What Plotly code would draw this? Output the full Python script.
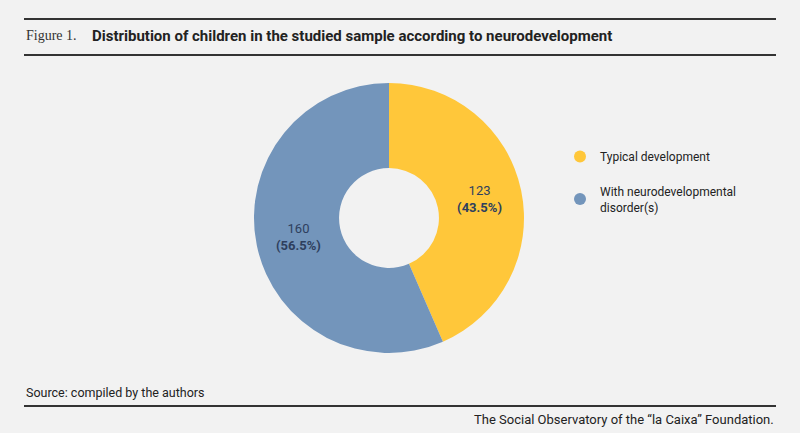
import plotly.graph_objects as go

categories = ["Typical development", "With neurodevelopmental disorder(s)"]
legend_labels = ["Typical development", "With neurodevelopmental<br>disorder(s)"]
values = [123, 160]
colors = ["#FFC73A", "#7395BB"]

W, H = 800, 433
BG = "#F2F2F2"

fig = go.Figure()

cx, cy, r = 389, 218, 135
fig.add_trace(go.Pie(
    labels=categories, values=values, sort=False, direction="clockwise", rotation=0,
    hole=0.37,
    marker=dict(colors=colors, line=dict(width=0)),
    texttemplate="%{value}<br><b>(%{percent:.1%})</b>",
    textposition="inside", insidetextorientation="horizontal",
    textfont=dict(family="Roboto, Arial", size=13, color="#2E3F5E"),
    showlegend=False, hoverinfo="label+value+percent",
    domain=dict(x=[(cx - r) / W, (cx + r) / W], y=[1 - (cy + r) / H, 1 - (cy - r) / H]),
))

for i, (lab, col) in enumerate(zip(legend_labels, colors)):
    fig.add_trace(go.Scatter(
        x=[None], y=[None], mode="markers", name=lab, legendgroup=f"g{i}",
        marker=dict(symbol="circle", size=10, color=col), showlegend=True,
    ))

fig.update_xaxes(visible=False)
fig.update_yaxes(visible=False)

line_col = "#333333"
shapes = []
for y in [19, 55, 406]:
    shapes.append(dict(type="line", xref="paper", yref="paper",
                       x0=24 / W, x1=776 / W, y0=1 - y / H, y1=1 - y / H,
                       line=dict(color=line_col, width=2)))

annotations = [
    dict(text="Figure 1.", x=24 / W, y=1 - 36 / H, xref="paper", yref="paper",
         xanchor="left", yanchor="middle", showarrow=False,
         font=dict(family="Liberation Serif, serif", size=14, color="#333333")),
    dict(text="<b>Distribution of children in the studied sample according to neurodevelopment</b>",
         x=90 / W, y=1 - 36 / H, xref="paper", yref="paper",
         xanchor="left", yanchor="middle", showarrow=False,
         font=dict(family="Liberation Sans Narrow, Roboto, Arial", size=15, color="#222222")),
    dict(text="Source: compiled by the authors", x=24 / W, y=1 - 392 / H, xref="paper", yref="paper",
         xanchor="left", yanchor="middle", showarrow=False,
         font=dict(family="Liberation Sans Narrow, Roboto, Arial", size=12.5, color="#222222")),
    dict(text="The Social Observatory of the \u201cla Caixa\u201d Foundation.", x=776 / W, y=1 - 419 / H,
         xref="paper", yref="paper", xanchor="right", yanchor="middle", showarrow=False,
         font=dict(family="Liberation Sans Narrow, Roboto, Arial", size=13, color="#222222")),
]

fig.update_layout(
    width=W, height=H, paper_bgcolor=BG, plot_bgcolor=BG,
    margin=dict(l=0, r=0, t=0, b=0),
    shapes=shapes, annotations=annotations,
    legend=dict(x=560 / W, y=1 - 142 / H, xanchor="left", yanchor="top",
                bgcolor="rgba(0,0,0,0)", tracegroupgap=16, itemsizing="constant",
                font=dict(family="Roboto, Arial", size=12, color="#222222")),
    showlegend=True,
)

fig.write_html("out.html", config={"displayModeBar": False},
               post_script="document.body.style.margin='0';document.body.style.background='#F2F2F2';")
